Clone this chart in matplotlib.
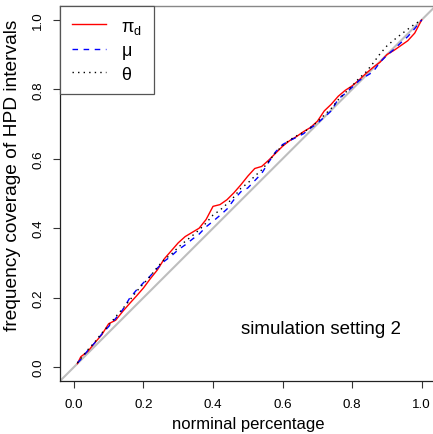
import numpy as np
import matplotlib
matplotlib.use("Agg")
import matplotlib.pyplot as plt

plt.rcParams['font.family'] = ['Liberation Sans', 'DejaVu Sans']
plt.rcParams['mathtext.fontset'] = 'custom'
plt.rcParams['mathtext.rm'] = 'Liberation Sans'
plt.rcParams['mathtext.it'] = 'Liberation Sans'

# nominal levels
nominal = [0.01, 0.02, 0.04, 0.06, 0.08, 0.10, 0.12, 0.14, 0.16, 0.18, 0.20,
           0.22, 0.24, 0.26, 0.28, 0.30, 0.32, 0.34, 0.36, 0.38, 0.40,
           0.42, 0.44, 0.46, 0.48, 0.50, 0.52, 0.54, 0.56, 0.58, 0.60,
           0.62, 0.64, 0.66, 0.68, 0.70, 0.72, 0.74, 0.76, 0.78, 0.80,
           0.82, 0.84, 0.86, 0.88, 0.90, 0.92, 0.94, 0.96, 0.98, 1.00]

pi_d = [0.01, 0.03, 0.045, 0.07, 0.093, 0.125, 0.135, 0.16, 0.183, 0.205, 0.228,
        0.255, 0.28, 0.312, 0.335, 0.358, 0.376, 0.388, 0.40, 0.425, 0.463,
        0.468, 0.482, 0.502, 0.525, 0.55, 0.572, 0.578, 0.596, 0.616, 0.636,
        0.652, 0.664, 0.678, 0.69, 0.708, 0.738, 0.757, 0.78, 0.797, 0.81,
        0.827, 0.846, 0.863, 0.878, 0.90, 0.912, 0.926, 0.94, 0.962, 1.0]

mu = [0.012, 0.022, 0.048, 0.07, 0.095, 0.117, 0.14, 0.165, 0.198, 0.222, 0.243,
      0.263, 0.285, 0.305, 0.32, 0.338, 0.352, 0.368, 0.383, 0.404, 0.42,
      0.437, 0.455, 0.482, 0.505, 0.516, 0.537, 0.558, 0.59, 0.62, 0.641,
      0.652, 0.662, 0.672, 0.688, 0.702, 0.72, 0.738, 0.772, 0.788, 0.806,
      0.825, 0.838, 0.85, 0.878, 0.898, 0.915, 0.934, 0.952, 0.975, 1.0]

theta = [0.012, 0.025, 0.05, 0.072, 0.098, 0.12, 0.145, 0.168, 0.192, 0.218, 0.24,
         0.262, 0.288, 0.31, 0.325, 0.345, 0.362, 0.378, 0.395, 0.415, 0.438,
         0.452, 0.47, 0.49, 0.515, 0.53, 0.55, 0.568, 0.592, 0.618, 0.638,
         0.654, 0.666, 0.676, 0.69, 0.706, 0.726, 0.745, 0.77, 0.79, 0.81,
         0.832, 0.85, 0.875, 0.902, 0.925, 0.942, 0.958, 0.973, 0.988, 1.0]

ticks = [0.0, 0.2, 0.4, 0.6, 0.8, 1.0]
tick_labels = ["0.0", "0.2", "0.4", "0.6", "0.8", "1.0"]

fig = plt.figure(figsize=(4.33, 4.35), dpi=100)
ax = fig.add_axes([60/433, 53/435, 375.6/433, 375/435])

l1, = ax.plot(nominal, pi_d, color='#ff0000', lw=1.0, label=r'$\pi_\mathrm{d}$')
l2, = ax.plot(nominal, mu, color='#0000ff', lw=1.0, linestyle=(0, (4, 4)), label='μ')
l3, = ax.plot(nominal, theta, color='black', lw=1.0, linestyle=(0, (1, 3)), label='θ')
ax.axline((0, 0), slope=1, color='#bebebe', lw=1.5, zorder=1)

ax.set_xlim(-0.04, 1.04)
ax.set_ylim(-0.04, 1.04)
ax.set_xticks(ticks)
ax.set_xticklabels(tick_labels)
ax.set_yticks(ticks)
ax.set_yticklabels(tick_labels, rotation=90, va='center')
ax.tick_params(direction='out', length=5, width=0.8, labelsize=9.6, color='#333333')
ax.tick_params(axis='x', pad=7.5)
ax.tick_params(axis='y', pad=6.5)

for s in ['left', 'bottom']:
    ax.spines[s].set_color('#222222')
    ax.spines[s].set_linewidth(0.9)
ax.spines['top'].set_color('#888888')
ax.spines['top'].set_linewidth(1.0)
ax.spines['right'].set_visible(False)

ax.set_xlabel('norminal percentage', fontsize=12, labelpad=4)
ax.set_ylabel('frequency coverage of HPD intervals', fontsize=13.8)
ax.yaxis.set_label_coords(-0.105, 0.552)

ax.text(0.71, 0.11, 'simulation setting 2', fontsize=13.5, ha='center', va='center')

leg = ax.legend(handles=[l1, l2, l3], loc='upper left', bbox_to_anchor=(0, 1),
                borderaxespad=0, fancybox=False, edgecolor='#555555', framealpha=1,
                fontsize=13, handlelength=1.9, handletextpad=0.85, labelspacing=0.36,
                borderpad=0.65)
leg.get_frame().set_linewidth(0.9)

fig.savefig('out.png', dpi=100)
